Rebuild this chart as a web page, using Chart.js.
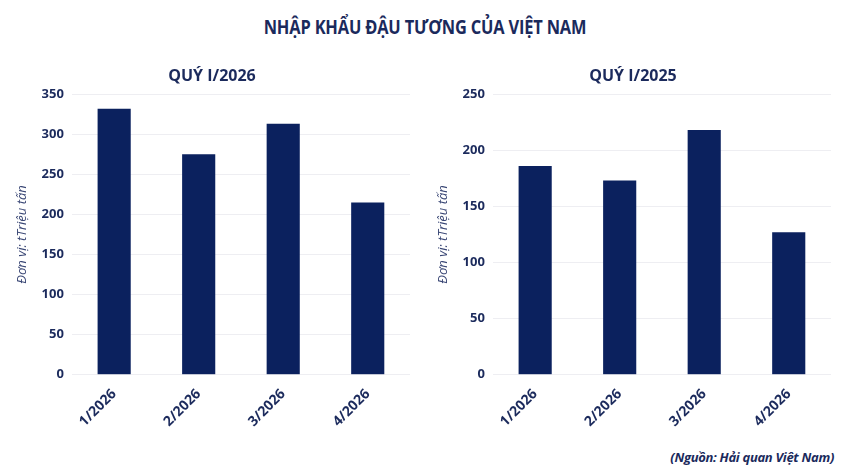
<!DOCTYPE html>
<html>
<head>
<meta charset="utf-8">
<script src="https://cdn.jsdelivr.net/npm/chart.js@4"></script>
<style>
  body { margin: 0; background: #fff; font-family: "Open Sans", sans-serif; }
  #page { position: relative; width: 850px; height: 471px; }
  #title { position: absolute; top: 13px; left: 0; width: 850px; text-align: center;
           font: bold 20px "Open Sans", sans-serif; color: #1b2a5c;
           transform: scaleX(0.82); letter-spacing: -0.2px; }
  .box { position: absolute; top: 65px; height: 368px; }
  #left { left: 0; width: 425px; }
  #right { left: 421px; width: 425px; }
  #source { position: absolute; right: 16px; top: 448px;
            font: italic bold 13px "Open Sans", sans-serif; color: #1b2a5c; letter-spacing: -0.3px; }
</style>
</head>
<body>
<div id="page">
  <div id="title">NHẬP KHẨU ĐẬU TƯƠNG CỦA VIỆT NAM</div>
  <div class="box" id="left"><canvas id="chart2026"></canvas></div>
  <div class="box" id="right"><canvas id="chart2025"></canvas></div>
  <div id="source">(Nguồn: Hải quan Việt Nam)</div>
</div>
<script>
var months = ['1/2026', '2/2026', '3/2026', '4/2026'];
var values2026 = [332, 275, 313, 215];
var values2025 = [186, 173, 218, 127];

var navy = '#0b215e';
var textColor = '#1b2a5c';

function makeChart(id, title, data, max, step) {
    var ctx = document.getElementById(id).getContext('2d');
    return new Chart(ctx, {
        type: 'bar',
        data: {
            labels: months,
            datasets: [{
                data: data,
                backgroundColor: navy,
                categoryPercentage: 0.8,
                barPercentage: 0.49
            }]
        },
        options: {
            responsive: true,
            maintainAspectRatio: false,
            animation: false,
            layout: { padding: { left: 14, right: 15, top: 0, bottom: 0 } },
            plugins: {
                legend: { display: false },
                tooltip: { enabled: false },
                title: {
                    display: true,
                    text: title,
                    color: textColor,
                    font: { family: 'Open Sans', size: 16, weight: 'bold' },
                    padding: { top: 2, bottom: 8 }
                }
            },
            scales: {
                x: {
                    grid: { display: false },
                    border: { display: false },
                    ticks: {
                        color: textColor,
                        font: { family: 'Open Sans', size: 14, weight: 'bold' },
                        maxRotation: 45,
                        minRotation: 45
                    }
                },
                y: {
                    min: 0,
                    max: max,
                    grid: { color: '#eeeef2', drawTicks: false },
                    border: { display: false },
                    ticks: {
                        stepSize: step,
                        color: textColor,
                        padding: 8,
                        font: { family: 'Open Sans', size: 13, weight: 'bold' }
                    },
                    title: {
                        display: true,
                        text: 'Đơn vị: tTriệu tấn',
                        color: '#3a4775',
                        padding: { top: 0, bottom: 4 },
                        font: { family: 'Open Sans', size: 13, style: 'italic' }
                    }
                }
            }
        }
    });
}

makeChart('chart2026', 'QUÝ I/2026', values2026, 350, 50);
makeChart('chart2025', 'QUÝ I/2025', values2025, 250, 50);
</script>
</body>
</html>
